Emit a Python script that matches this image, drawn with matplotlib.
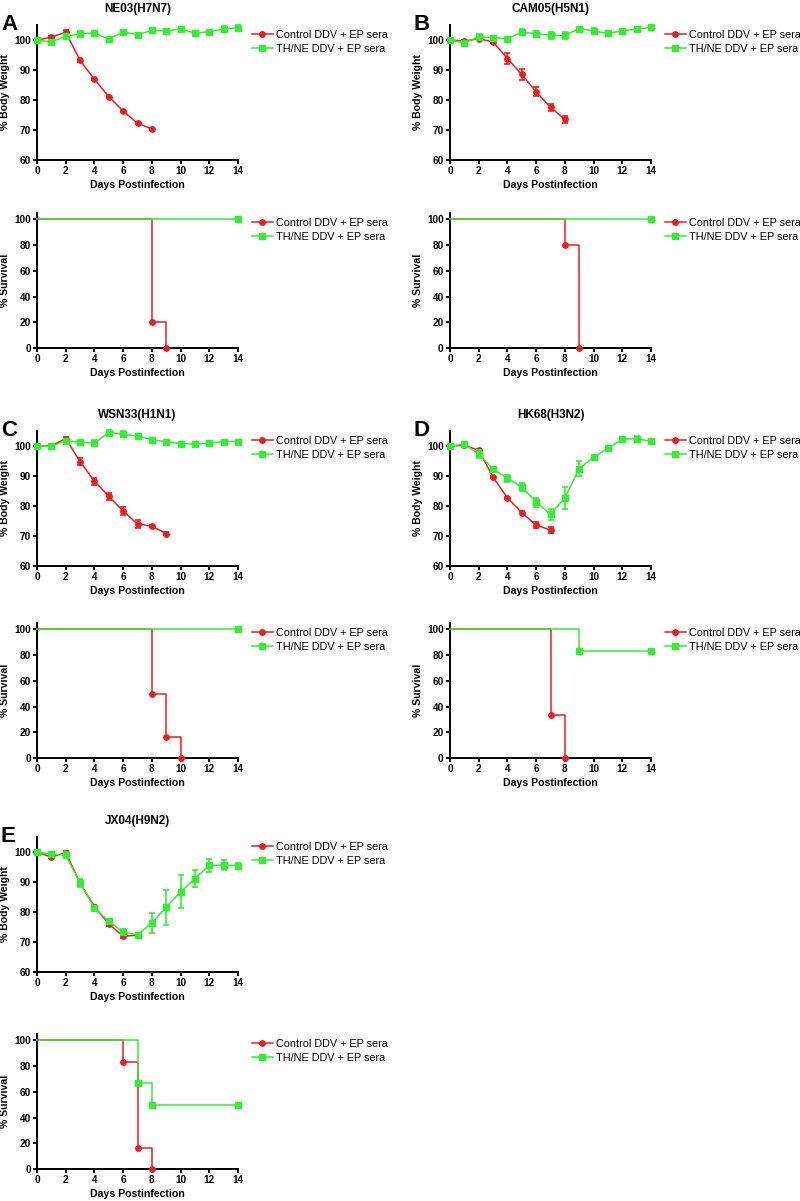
import matplotlib
matplotlib.use("Agg")
import matplotlib.pyplot as plt
from matplotlib.lines import Line2D

plt.rcParams['font.family'] = ['Liberation Sans', 'DejaVu Sans']

RED = '#ee1c1c'
GREEN = '#33ee33'

days = list(range(15))

# ---------------- weight data ----------------
titles = ["NE03(H7N7)", "CAM05(H5N1)", "WSN33(H1N1)", "HK68(H3N2)", "JX04(H9N2)"]
letters = ["A", "B", "C", "D", "E"]

ctrl_w_A = [100, 100.9, 102.6, 93.2, 86.9, 81.1, 76.3, 72.3, 70.3]
ctrl_e_A = [0, 0.3, 0.7, 0.4, 0.3, 0.3, 0.3, 0.3, 0.3]
th_w_A = [100, 99.3, 101.3, 102.0, 102.4, 100.2, 102.7, 101.8, 103.2, 103.0, 103.7, 102.2, 102.8, 103.6, 104.1]
th_e_A = [0, 0.4, 0.6, 1.0, 0.5, 0.4, 0.4, 0.4, 0.5, 0.4, 0.4, 0.4, 0.5, 0.9, 0.9]

ctrl_w_B = [100, 99.7, 100.4, 99.4, 93.8, 88.5, 82.7, 77.6, 73.5]
ctrl_e_B = [0, 0.3, 0.4, 0.4, 1.8, 1.8, 1.5, 1.2, 1.2]
th_w_B = [100, 99.0, 101.1, 100.8, 100.4, 102.6, 102.1, 101.6, 101.5, 103.8, 103.0, 102.2, 103.1, 103.6, 104.2]
th_e_B = [0, 0.4, 0.9, 0.5, 0.3, 1.0, 1.0, 1.2, 1.2, 0.6, 1.0, 0.4, 0.4, 0.4, 0.4]

ctrl_w_C = [100, 100, 102.5, 94.8, 88.3, 83.2, 78.3, 74.0, 73.3, 70.8]
ctrl_e_C = [0, 0.3, 0.6, 1.2, 1.2, 1.2, 1.3, 1.2, 0.4, 0.4]
th_w_C = [100, 99.9, 101.8, 101.2, 101.0, 104.5, 103.9, 103.3, 102.1, 101.4, 100.8, 100.6, 101.0, 101.5, 101.5]
th_e_C = [0, 0.3, 0.4, 0.4, 1.0, 0.8, 1.0, 0.5, 0.4, 0.4, 0.4, 0.8, 0.4, 0.4, 0.4]

ctrl_w_D = [100, 100.2, 98.6, 89.6, 82.7, 77.8, 73.6, 72.0]
ctrl_e_D = [0, 0.3, 0.4, 0.4, 0.4, 0.4, 1.0, 1.0]
th_w_D = [100, 100.6, 97.4, 92.3, 89.2, 86.3, 81.3, 77.2, 82.7, 92.5, 96.2, 99.2, 102.3, 102.4, 101.6]
th_e_D = [0, 0.7, 1.3, 0.5, 1.3, 1.3, 1.5, 1.7, 3.6, 2.4, 0.4, 0.4, 0.8, 0.8, 0.5]

ctrl_w_E = [100, 98.3, 99.8, 89.6, 81.8, 76.0, 71.9, 72.3]
ctrl_e_E = [0, 0.4, 0.4, 1.0, 0.6, 0.6, 0.6, 0.3]
th_w_E = [100, 99.3, 98.9, 89.7, 81.3, 76.9, 73.3, 72.4, 76.4, 81.6, 86.7, 91.1, 95.6, 95.6, 95.4]
th_e_E = [0, 0.5, 1.0, 1.2, 0.8, 0.8, 1.0, 0.3, 3.3, 5.8, 5.5, 2.9, 2.2, 1.6, 1.0]

ctrl_w = [ctrl_w_A, ctrl_w_B, ctrl_w_C, ctrl_w_D, ctrl_w_E]
ctrl_e = [ctrl_e_A, ctrl_e_B, ctrl_e_C, ctrl_e_D, ctrl_e_E]
th_w = [th_w_A, th_w_B, th_w_C, th_w_D, th_w_E]
th_e = [th_e_A, th_e_B, th_e_C, th_e_D, th_e_E]

# ---------------- survival data (event days, survival %) ----------------
ctrl_s_t = [[0, 8, 9], [0, 8, 9], [0, 8, 9, 10], [0, 7, 8], [0, 6, 7, 8]]
ctrl_s_v = [[100, 20, 0], [100, 80, 0], [100, 50, 16.7, 0], [100, 33.3, 0], [100, 83.3, 16.7, 0]]
th_s_t = [[0, 14], [0, 14], [0, 14], [0, 9, 14], [0, 7, 8, 14]]
th_s_v = [[100, 100], [100, 100], [100, 100], [100, 83.3, 83.3], [100, 66.7, 50, 50]]

LBL_C = "Control DDV + EP sera"
LBL_T = "TH/NE DDV + EP sera"

W, H = 800, 1201
fig = plt.figure(figsize=(W / 100, H / 100), dpi=100)

col_x = [37, 450]
ax_w = 201
ax_h = 135
row_tops_w = [25, 431, 837]
row_tops_s = [213, 623, 1034]

MS_C, MS_T = 3.9, 4.3


def make_ax(xpx, ytop):
    return fig.add_axes([xpx / W, 1 - (ytop + ax_h) / H, ax_w / W, ax_h / H])


def style(ax, ylim, yticks, ylabel):
    ax.set_xlim(0, 14)
    ax.set_ylim(*ylim)
    ax.set_xticks(range(0, 15, 2))
    ax.set_yticks(yticks)
    for s in ['top', 'right']:
        ax.spines[s].set_visible(False)
    for s in ['left', 'bottom']:
        ax.spines[s].set_linewidth(1.4)
    ax.tick_params(direction='out', length=3, width=1.4, labelsize=7.2, pad=1.5)
    for lab in ax.get_xticklabels() + ax.get_yticklabels():
        lab.set_fontweight('bold')
    ax.set_xlabel("Days Postinfection", fontsize=7.6, fontweight='bold', labelpad=2.5)
    ax.set_ylabel(ylabel, fontsize=7.6, fontweight='bold', labelpad=3)
    handles = [Line2D([], [], color=RED, lw=1.1, marker='o', ms=MS_C),
               Line2D([], [], color=GREEN, lw=1.1, marker='s', ms=MS_T)]
    ax.legend(handles, [LBL_C, LBL_T], loc='upper left', bbox_to_anchor=(1.07, 0.965),
              frameon=False, fontsize=7.8, borderpad=0, borderaxespad=0,
              handlelength=1.9, handletextpad=0.3, labelspacing=0.4)


for i in range(5):
    col = i % 2
    row = i // 2
    xpx = col_x[col]
    # weight
    ax = make_ax(xpx, row_tops_w[row])
    dc = days[:len(ctrl_w[i])]
    ax.errorbar(dc, ctrl_w[i], yerr=ctrl_e[i], color=RED, lw=1.1, marker='o', ms=MS_C,
                capsize=2.5, elinewidth=1.2, capthick=1.2, clip_on=False, zorder=3)
    ax.errorbar(days, th_w[i], yerr=th_e[i], color=GREEN, lw=1.1, marker='s', ms=MS_T,
                capsize=2.5, elinewidth=1.2, capthick=1.2, clip_on=False, zorder=4)
    style(ax, (60, 105), [60, 70, 80, 90, 100], "% Body Weight")
    ax.set_title(titles[i], fontsize=8.5, fontweight='bold', pad=9.5)
    fig.text((xpx - 36) / W, 1 - (row_tops_w[row] - 11) / H, letters[i],
             fontsize=16, fontweight='bold', va='top', ha='left')

    # survival
    ax2 = make_ax(xpx, row_tops_s[row])
    ct, cv = ctrl_s_t[i], ctrl_s_v[i]
    tt, tv = th_s_t[i], th_s_v[i]
    ax2.step(ct, cv, where='post', color=RED, lw=1.1, clip_on=False, zorder=3)
    ax2.plot(ct[1:], cv[1:], ls='none', marker='o', ms=MS_C, color=RED, clip_on=False, zorder=3)
    ax2.step(tt, tv, where='post', color=GREEN, lw=1.1, clip_on=False, zorder=4)
    ax2.plot(tt[1:], tv[1:], ls='none', marker='s', ms=MS_T, color=GREEN, clip_on=False, zorder=4)
    style(ax2, (0, 105), [0, 20, 40, 60, 80, 100], "% Survival")

fig.savefig("out.png", dpi=100)
